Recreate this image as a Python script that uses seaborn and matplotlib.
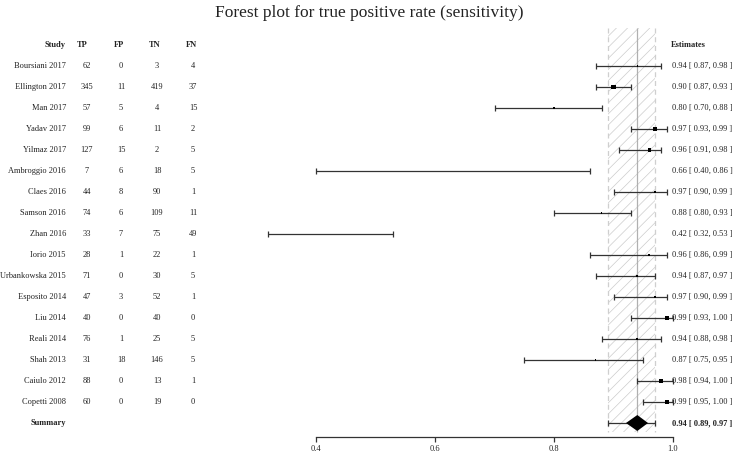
import numpy as np
import pandas as pd
import matplotlib
matplotlib.use("Agg")
import matplotlib.pyplot as plt
import seaborn as sns

# ---------------- data ----------------
studies = ["Boursiani 2017", "Ellington 2017", "Man 2017", "Yadav 2017", "Yilmaz 2017",
           "Ambroggio 2016", "Claes 2016", "Samson 2016", "Zhan 2016", "Iorio 2015",
           "Urbankowska 2015", "Esposito 2014", "Liu 2014", "Reali 2014", "Shah 2013",
           "Caiulo 2012", "Copetti 2008"]
tp = [62, 345, 57, 99, 127, 7, 44, 74, 33, 28, 71, 47, 40, 76, 31, 88, 60]
fp = [0, 11, 5, 6, 15, 6, 8, 6, 7, 1, 0, 3, 0, 1, 18, 0, 0]
tn = [3, 419, 4, 11, 2, 18, 90, 109, 75, 22, 30, 52, 40, 25, 146, 13, 19]
fn = [4, 37, 15, 2, 5, 5, 1, 11, 49, 1, 5, 1, 0, 5, 5, 1, 0]
est = [0.94, 0.90, 0.80, 0.97, 0.96, 0.66, 0.97, 0.88, 0.42, 0.96, 0.94, 0.97, 0.99, 0.94, 0.87, 0.98, 0.99]
lo = [0.87, 0.87, 0.70, 0.93, 0.91, 0.40, 0.90, 0.80, 0.32, 0.86, 0.87, 0.90, 0.93, 0.88, 0.75, 0.94, 0.95]
hi = [0.98, 0.93, 0.88, 0.99, 0.98, 0.86, 0.99, 0.93, 0.53, 0.99, 0.97, 0.99, 1.00, 0.98, 0.95, 1.00, 1.00]
weights = [1, 25, 1, 22, 14, 0.5, 8, 1, 0.5, 3, 6, 7, 22, 3, 1, 22, 25]
summary_est, summary_lo, summary_hi = 0.94, 0.89, 0.97
diamond_lo, diamond_hi = 0.921, 0.958
xticks = [0.4, 0.6, 0.8, 1.0]
headers = ["Study", "TP", "FP", "TN", "FN"]
title = "Forest plot for true positive rate (sensitivity)"

# ---------------- style ----------------
sns.set_theme(style="white")
plt.rcParams["font.family"] = ["Liberation Serif", "DejaVu Serif"]
plt.rcParams["hatch.linewidth"] = 0.5

W, H = 738, 455
fig = plt.figure(figsize=(W / 100, H / 100), dpi=100)
ax = fig.add_axes([0, 0, 1, 1])

# pixel <-> data mapping for layout
X_PX0, X_SCALE = 316, 595.0   # x pixel of 0.4, pixels per unit
Y_PX0, Y_STEP = 66, 21.0      # y pixel of first row, pixels per row
def px2x(px):
    return 0.4 + (px - X_PX0) / X_SCALE
def py2y(py):
    return (py - Y_PX0) / Y_STEP

ax.set_xlim(px2x(0), px2x(W))
ax.set_ylim(py2y(H), py2y(0))

n = len(studies)
rows = np.arange(n)
sum_row = n

# reference band
y_top, y_bot = py2y(28), py2y(432)
ax.fill_betweenx([y_top, y_bot], summary_lo, summary_hi, facecolor="none",
                 edgecolor="#cccccc", hatch="///", linewidth=0, zorder=0)
ax.vlines([summary_lo, summary_hi], y_top, y_bot, colors="#cfcfcf",
          linestyles=(0, (4, 3)), linewidth=0.9, zorder=1)
ax.vlines([summary_est], y_top, y_bot, colors="#b0b0b0", linewidth=0.9, zorder=1)

# study intervals
est_a, lo_a, hi_a = np.array(est), np.array(lo), np.array(hi)
ax.errorbar(est_a, rows, xerr=[est_a - lo_a, hi_a - est_a], fmt="none",
            ecolor="#333333", elinewidth=0.9, capsize=2.2, capthick=0.9, zorder=3)
df = pd.DataFrame({"est": est, "row": rows, "weight": weights})
sns.scatterplot(data=df, x="est", y="row", size="weight", sizes=(0.3, 9),
                size_norm=(0, 25), marker="s", color="black", edgecolor="none",
                legend=False, ax=ax, zorder=4)

# summary
ax.errorbar([summary_est], [sum_row], xerr=[[summary_est - summary_lo], [summary_hi - summary_est]],
            fmt="none", ecolor="#333333", elinewidth=0.9, capsize=2.2, capthick=0.9, zorder=3)
dh = 0.38
ax.fill([diamond_lo, summary_est, diamond_hi, summary_est],
        [sum_row, sum_row - dh, sum_row, sum_row + dh], color="black", zorder=5, linewidth=0)

# table text
fs = 6
col_x = [66, 87, 121, 157, 193]
hdr_x = [66, 82, 119, 155, 191]
hdr_y = py2y(45)
for j, h in enumerate(headers):
    ax.text(px2x(hdr_x[j]), hdr_y, h, ha="right" if j == 0 else "center", va="center",
            fontsize=fs, fontweight="bold", color="#222222")
for i in range(n):
    ax.text(px2x(col_x[0]), i, studies[i], ha="right", va="center", fontsize=fs, color="#222222")
    for j, col in enumerate([tp, fp, tn, fn], start=1):
        ax.text(px2x(col_x[j]), i, str(col[i]), ha="center", va="center", fontsize=fs, color="#222222")
    ax.text(px2x(672), i, f"{est[i]:.2f} [ {lo[i]:.2f}, {hi[i]:.2f} ]", ha="left", va="center",
            fontsize=fs, color="#222222")
ax.text(px2x(col_x[0]), sum_row, "Summary", ha="right", va="center", fontsize=fs,
        fontweight="bold", color="#222222")
ax.text(px2x(672), sum_row, f"{summary_est:.2f} [ {summary_lo:.2f}, {summary_hi:.2f} ]",
        ha="left", va="center", fontsize=fs, fontweight="bold", color="#222222")
ax.text(px2x(671), hdr_y, "Estimates", ha="left", va="center", fontsize=fs,
        fontweight="bold", color="#222222")

# title
ax.text(px2x(W / 2), py2y(13), title, ha="center", va="center", fontsize=12.5, color="#222222")

# axis
for s in ["top", "left", "right"]:
    ax.spines[s].set_visible(False)
ax.spines["bottom"].set_position(("data", py2y(437)))
ax.spines["bottom"].set_bounds(0.4, 1.0)
ax.spines["bottom"].set_color("#333333")
ax.spines["bottom"].set_linewidth(0.9)
ax.set_xticks(xticks)
ax.set_xticklabels([f"{t:.1f}" for t in xticks])
ax.set_yticks([])
ax.tick_params(axis="x", direction="out", length=3.6, width=0.9, color="#333333",
               pad=2.5, labelsize=fs, labelcolor="#222222", bottom=True)
ax.set_xlabel("")
ax.set_ylabel("")
ax.set_facecolor("white")
fig.patch.set_facecolor("white")

fig.savefig("out.png", dpi=100)
